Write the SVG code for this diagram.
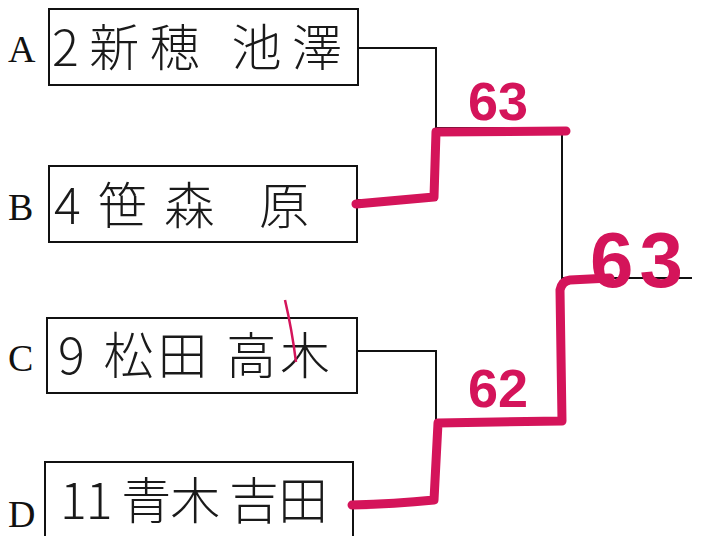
<svg xmlns="http://www.w3.org/2000/svg" width="706" height="536" viewBox="0 0 706 536">
<style>
.box{fill:#fff;stroke:#111;stroke-width:2}
.lbl{font-family:"Liberation Serif",serif;font-size:38px;fill:#111}
.name{font-family:"Noto Sans CJK JP","Noto Sans",sans-serif;font-size:50px;fill:#1a1a1a;font-weight:300}
.ln{fill:none;stroke:#111;stroke-width:2}
.win{fill:none;stroke:#d4145a;stroke-width:9;stroke-linecap:round;stroke-linejoin:round}
.score{font-family:"Liberation Sans",sans-serif;font-weight:bold;fill:#d4145a}
</style>
<rect width="706" height="536" fill="#fff"/>
<g id="nodeA">
<rect class="box" x="49" y="9" width="309" height="76"/>
<text class="lbl" x="8" y="62">A</text>
<text class="name" x="52" y="66" textLength="290" lengthAdjust="spacing">2新穂 池澤</text>
</g>
<g id="nodeB">
<rect class="box" x="49" y="166" width="308" height="76"/>
<text class="lbl" x="8" y="220">B</text>
<text class="name" x="54" y="224" textLength="255" lengthAdjust="spacing">4笹森 原</text>
</g>
<g id="nodeC">
<rect class="box" x="47" y="318" width="310" height="75"/>
<text class="lbl" x="8" y="371">C</text>
<text class="name" x="58" y="374" textLength="272" lengthAdjust="spacing">9 松田 高木</text>
</g>
<g id="nodeD">
<rect class="box" x="45" y="462" width="308" height="80"/>
<text class="lbl" x="8" y="527">D</text>
<text class="name" x="60" y="519" textLength="268" lengthAdjust="spacing">11 青木 吉田</text>
</g>
<g id="connectors">
<path class="ln" d="M358,48 H436 V200 H357"/>
<path class="ln" d="M436,128 H562 V424 H436"/>
<path class="ln" d="M357,351 H436 V502 H353"/>
<path class="ln" d="M562,278 H692"/>
<path class="win" d="M356,204 Q400,200 434,197 L436,132 L566,131"/>
<path class="win" d="M352,505 Q395,504 434,500 L438,423 L562,421 L560,290 Q562,281 570,280 L610,278"/>
<path d="M285,300 Q292,330 296,362" fill="none" stroke="#d4145a" stroke-width="2.5"/>
</g>
<g id="scores">
<text class="score" x="468" y="120" font-size="54">63</text>
<text class="score" x="468" y="407" font-size="54">62</text>
<text class="score" x="590" y="287" font-size="78" letter-spacing="6">63</text>
</g>
</svg>
